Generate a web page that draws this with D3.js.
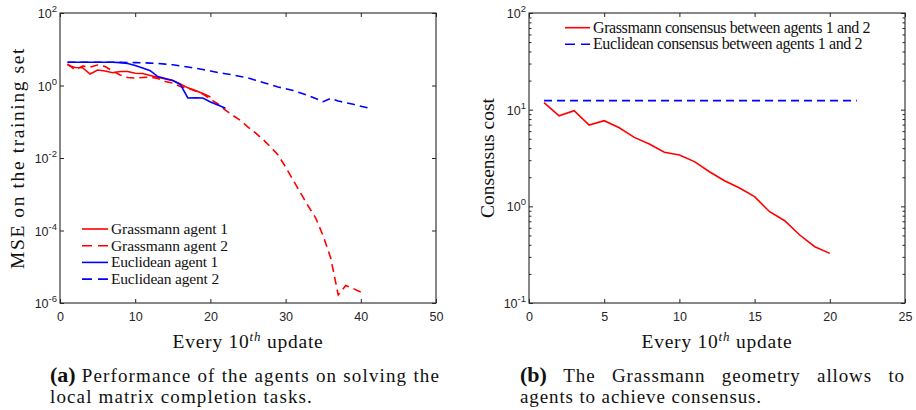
<!DOCTYPE html>
<html>
<head>
<script src="https://d3js.org/d3.v7.min.js"></script>
<style>
  body { margin: 0; background: #fff; }
  .tick-label { font-family: "Liberation Sans", Arial, sans-serif; font-size: 12.5px; fill: #262626; }
  .serif { font-family: "Liberation Serif", "Times New Roman", serif; fill: #111; }
</style>
</head>
<body>
<svg id="fig" width="916" height="410"></svg>
<script>
// ---- panel (a) data: MSE on the training set ----
const grassAgent1 = [3.68, 3.14, 3.1, 2.07, 2.68, 2.51, 2.25, 2.43, 2.43, 2.17, 2.14, 1.89, 1.68, 1.51, 1.37, 1.1, 0.86, 0.73, 0.60, 0.48];
const grassAgent2 = [3.92, 2.68, 3.45, 3.24, 3.68, 3.34, 2.51, 1.95, 1.66, 1.61, 1.66, 1.72, 1.56, 1.29, 1.17, 0.94, 0.85, 0.705, 0.583, 0.424,
  0.309, 0.21, 0.149, 0.108, 0.0716, 0.049, 0.0324, 0.0201, 0.0121, 0.00565, 0.00247, 0.00108, 4.74e-4, 2.21e-4, 7.05e-5, 1.74e-5,
  1.66e-6, 3.04e-6, 2.5e-6, 2.01e-6];
const euclAgent1 = [4.365, 4.365, 4.365, 4.365, 4.365, 4.365, 4.365, 4.28, 4.04, 3.56, 3.04, 2.56, 1.77, 1.56, 1.37, 1.07, 0.452, 0.458, 0.452, 0.351, 0.29, 0.235];
const euclAgent2 = [4.365, 4.365, 4.365, 4.365, 4.365, 4.365, 4.365, 4.34, 4.31, 4.28, 4.23, 4.15, 4.04, 3.89, 3.72, 3.49, 3.24, 3.00, 2.76, 2.51,
  2.28, 2.12, 1.95, 1.77, 1.61, 1.39, 1.21, 1.05, 0.91, 0.82, 0.73, 0.62, 0.53, 0.44, 0.357, 0.443, 0.373, 0.336, 0.303, 0.269, 0.239];
const xTicksA = [0, 10, 20, 30, 40, 50];
const yExpA = [2, 0, -2, -4, -6];
const legendA = ["Grassmann agent 1", "Grassmann agent 2", "Euclidean agent 1", "Euclidean agent 2"];

// ---- panel (b) data: consensus cost ----
const grassConsensus = [11.8, 8.65, 9.75, 6.93, 7.69, 6.5, 5.17, 4.41, 3.62, 3.40, 2.90, 2.28, 1.84, 1.55, 1.26, 0.88, 0.71, 0.505, 0.382, 0.326];
const euclConsensusX = [1, 21.8];
const euclConsensus = [12.4, 12.4];
const xTicksB = [0, 5, 10, 15, 20, 25];
const yExpB = [2, 1, 0, -1];
const legendB = ["Grassmann consensus between agents 1 and 2", "Euclidean consensus between agents 1 and 2"];

const svg = d3.select("#fig");
const RED = "#ff0000", BLUE = "#0000ff", AX = "#262626";
const DASH = "8,5";

// stretch a text to the width the original (Computer Modern) text takes
function fit(sel, target) {
  const n = sel.node();
  const len = n.getComputedTextLength();
  const k = n.getNumberOfChars();
  sel.attr("letter-spacing", ((target - len) / k).toFixed(3));
  return sel;
}

function panel(opt) {
  const g = svg.append("g");
  const x = d3.scaleLinear().domain(opt.xDomain).range([opt.left, opt.right]);
  const y = d3.scaleLog().domain(opt.yDomain).range([opt.bottom, opt.top]);

  g.append("rect").attr("x", opt.left).attr("y", opt.top)
    .attr("width", opt.right - opt.left).attr("height", opt.bottom - opt.top)
    .attr("fill", "none").attr("stroke", AX).attr("stroke-width", 1.1);

  const tk = 4;
  g.append("g").attr("transform", `translate(0,${opt.bottom})`)
    .call(d3.axisBottom(x).tickValues(opt.xTicks).tickSize(-tk).tickPadding(9).tickFormat(d3.format("d")))
    .call(a => a.select(".domain").remove())
    .call(a => a.selectAll("text").attr("class", "tick-label").attr("fill", null))
    .call(a => a.selectAll("line").attr("stroke", AX));
  g.append("g").attr("transform", `translate(0,${opt.top})`)
    .call(d3.axisTop(x).tickValues(opt.xTicks).tickSize(-tk).tickFormat(""))
    .call(a => a.select(".domain").remove())
    .call(a => a.selectAll("line").attr("stroke", AX));

  const majors = opt.yExp.map(e => Math.pow(10, e));
  let minors = [];
  if (opt.minor) {
    for (let e = opt.yExp[opt.yExp.length - 1]; e < opt.yExp[0]; e++)
      for (let m = 2; m <= 9; m++) minors.push(m * Math.pow(10, e));
  }
  [[d3.axisLeft, opt.left], [d3.axisRight, opt.right]].forEach(([ax, px]) => {
    g.append("g").attr("transform", `translate(${px},0)`)
      .call(ax(y).tickValues(majors).tickSize(-tk).tickFormat(""))
      .call(a => a.select(".domain").remove())
      .call(a => a.selectAll("line").attr("stroke", AX));
    if (minors.length) {
      g.append("g").attr("transform", `translate(${px},0)`)
        .call(ax(y).tickValues(minors).tickSize(-2.5).tickFormat(""))
        .call(a => a.select(".domain").remove())
        .call(a => a.selectAll("line").attr("stroke", AX));
    }
  });

  // y tick labels 10^e
  opt.yExp.forEach(e => {
    const t = g.append("text").attr("class", "tick-label")
      .attr("x", opt.left - 3).attr("y", y(Math.pow(10, e)) + 5)
      .attr("text-anchor", "end");
    t.append("tspan").text("10");
    t.append("tspan").attr("dy", -6).attr("font-size", 9.5).text(e);
  });

  const line = d3.line().x(d => x(d[0])).y(d => y(d[1]));
  opt.series.forEach(s => {
    g.append("path").datum(s.values.map((v, i) => [s.xs ? s.xs[i] : i + 1, v]))
      .attr("d", line).attr("fill", "none").attr("stroke", s.color)
      .attr("stroke-width", 1.6).attr("stroke-dasharray", s.dash ? DASH : null);
  });

  // legend
  opt.series.forEach((s, i) => {
    const ly = opt.legY + i * opt.legStep;
    g.append("line").attr("x1", opt.legX).attr("x2", opt.legX + opt.legLine)
      .attr("y1", ly).attr("y2", ly).attr("stroke", s.color).attr("stroke-width", 1.6)
      .attr("stroke-dasharray", s.dash ? "10,6" : null);
    const t = g.append("text").attr("class", "serif").attr("font-size", opt.legFont)
      .attr("x", opt.legX + opt.legLine + 3).attr("y", ly + 5).text(s.name);
    fit(t, opt.legW[i]);
  });

  // x label
  const xl = g.append("text").attr("class", "serif").attr("font-size", 19.5)
    .attr("x", (opt.left + opt.right) / 2).attr("y", 348).attr("text-anchor", "middle");
  xl.append("tspan").text("Every 10");
  xl.append("tspan").attr("dy", -7).attr("font-size", 13).attr("font-style", "italic").text("th");
  xl.append("tspan").attr("dy", 7).text(" update");
  fit(xl, 151);

  // y label
  const yl = g.append("text").attr("class", "serif").attr("font-size", 19.5)
    .attr("transform", `translate(${opt.yLabX},${(opt.top + opt.bottom) / 2}) rotate(-90)`)
    .attr("text-anchor", "middle").text(opt.yLabel);
  fit(yl, opt.yLabW);
  return g;
}

panel({
  left: 60, right: 436, top: 13, bottom: 303,
  xDomain: [0, 50], yDomain: [1e-6, 1e2], xTicks: xTicksA, yExp: yExpA, minor: false,
  yLabel: "MSE on the training set", yLabX: 24, yLabW: 222,
  legX: 82, legY: 229, legStep: 16.7, legLine: 26, legFont: 15.5, legW: [117, 117, 107, 108],
  series: [
    { name: legendA[0], values: grassAgent1, color: RED, dash: false },
    { name: legendA[1], values: grassAgent2, color: RED, dash: true },
    { name: legendA[2], values: euclAgent1, color: BLUE, dash: false },
    { name: legendA[3], values: euclAgent2, color: BLUE, dash: true }
  ]
});

panel({
  left: 529, right: 905, top: 13, bottom: 303,
  xDomain: [0, 25], yDomain: [1e-1, 1e2], xTicks: xTicksB, yExp: yExpB, minor: true,
  yLabel: "Consensus cost", yLabX: 494, yLabW: 120,
  legX: 565, legY: 27.7, legStep: 16.6, legLine: 25, legFont: 16, legW: [277, 269],
  series: [
    { name: legendB[0], values: grassConsensus, color: RED, dash: false },
    { name: legendB[1], values: euclConsensus, xs: euclConsensusX, color: BLUE, dash: true }
  ]
});

// captions: first line justified, second line ragged
function caption(tag, lines, x0, x1, w2) {
  const size = 19;
  // second line sets the letter spacing
  const l2 = svg.append("text").attr("class", "serif").attr("font-size", size)
    .attr("x", x0).attr("y", 403).text(lines[1]);
  fit(l2, w2);
  const ls = +l2.attr("letter-spacing");
  const words = [tag].concat(lines[0].split(" "));
  const nodes = words.map((w, wi) => svg.append("text").attr("class", "serif")
    .attr("font-size", wi === 0 ? 22 : size)
    .attr("font-weight", wi === 0 ? "bold" : null)
    .attr("letter-spacing", wi === 0 ? null : ls)
    .attr("y", 382).text(w));
  const widths = nodes.map(n => n.node().getComputedTextLength());
  const gap = (x1 - x0 - d3.sum(widths)) / (words.length - 1);
  let cx = x0;
  nodes.forEach((n, i) => { n.attr("x", cx); cx += widths[i] + gap; });
}
caption("(a)", ["Performance of the agents on solving the", "local matrix completion tasks."], 50, 440, 263);
caption("(b)", ["The Grassmann geometry allows to", "agents to achieve consensus."], 520, 905, 242);
</script>
</body>
</html>
